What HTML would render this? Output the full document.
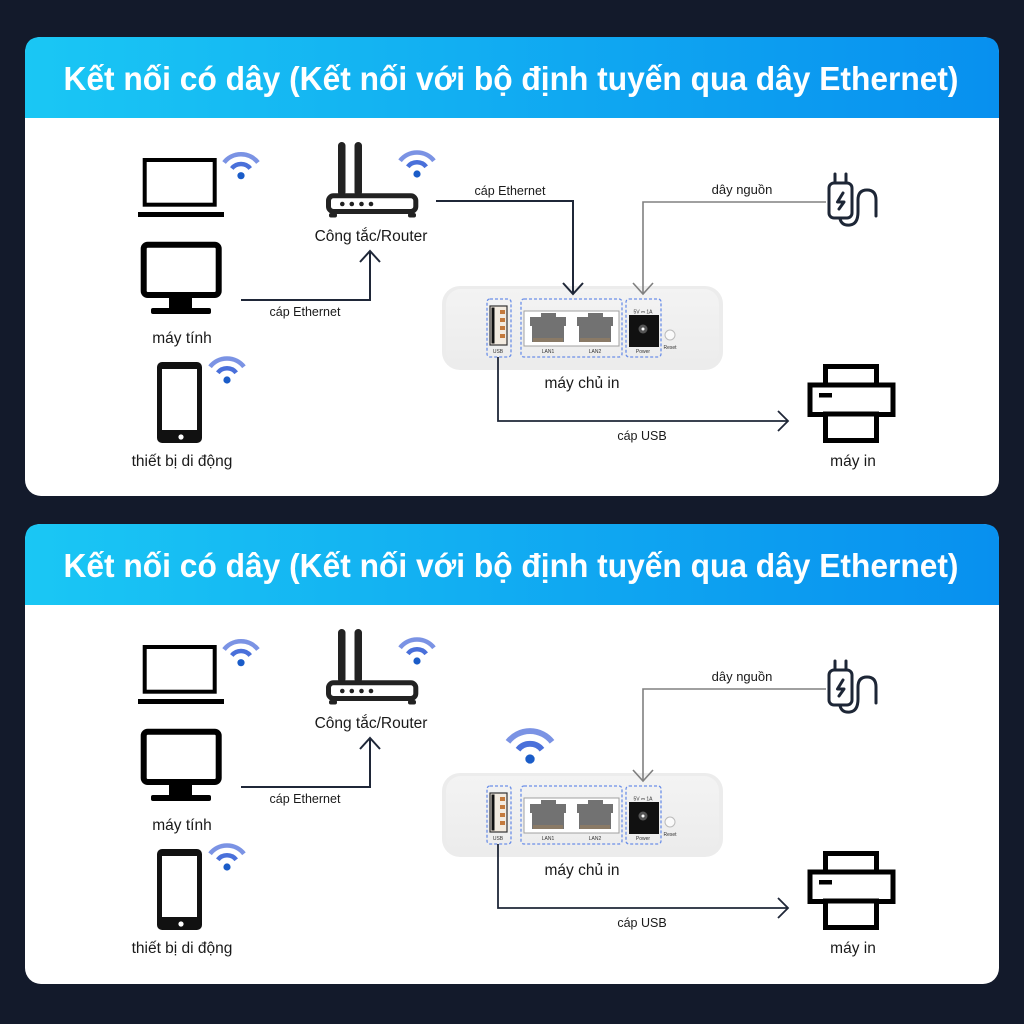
<!DOCTYPE html>
<html><head><meta charset="utf-8"><style>
html,body{margin:0;padding:0;background:#131a2b;}
svg{display:block;}
.t{font-family:"Liberation Sans","DejaVu Sans",sans-serif;fill:#1a1a1a;text-anchor:middle;}
.h{font-family:"Liberation Sans","DejaVu Sans",sans-serif;fill:#fff;font-weight:bold;text-anchor:middle;}
.s{font-family:"Liberation Sans","DejaVu Sans",sans-serif;fill:#333;text-anchor:middle;font-size:5px;}
</style></head><body>
<svg width="1024" height="1024" viewBox="0 0 1024 1024" xmlns="http://www.w3.org/2000/svg">
<defs>
<linearGradient id="hg" x1="0" y1="0" x2="1" y2="0">
<stop offset="0" stop-color="#1ac7f4"/><stop offset="1" stop-color="#0890ef"/>
</linearGradient>
<linearGradient id="dg" x1="0" y1="0" x2="0" y2="1">
<stop offset="0" stop-color="#f3f3f3"/><stop offset="1" stop-color="#ececec"/>
</linearGradient>
</defs>
<rect width="1024" height="1024" fill="#131a2b"/>

<!-- ================= PANEL 1 ================= -->
<rect x="25" y="37" width="974" height="459" rx="16" fill="#fff"/>
<path d="M25,118 V53 Q25,37 41,37 H983 Q999,37 999,53 V118 Z" fill="url(#hg)"/>
<text class="h" x="511" y="90" font-size="33" textLength="895" lengthAdjust="spacingAndGlyphs">Kết nối có dây (Kết nối với bộ định tuyến qua dây Ethernet)</text>

<!-- laptop -->
<rect x="144.7" y="160" width="70" height="44.7" fill="none" stroke="#000" stroke-width="4"/>
<rect x="138" y="212" width="86" height="5" fill="#000"/>
<g transform="translate(241,175.7)">
<path d="M-16.94,-13.24 A21.5,21.5 0 0 1 16.94,-13.24" fill="none" stroke="#7b93e4" stroke-width="4.5"/>
<path d="M-9.22,-7.2 A11.7,11.7 0 0 1 9.22,-7.2" fill="none" stroke="#4a70da" stroke-width="4.5"/>
<circle r="3.6" fill="#1a5cc8"/></g>

<!-- monitor -->
<rect x="143.7" y="244.7" width="75" height="50.3" rx="4" fill="none" stroke="#000" stroke-width="6"/>
<rect x="169" y="296" width="23" height="14" fill="#000"/>
<rect x="151" y="308" width="60" height="6" rx="2" fill="#000"/>
<text class="t" x="182" y="343" font-size="15.5">máy tính</text>

<!-- phone -->
<rect x="157" y="362" width="45" height="81" rx="5" fill="#111"/>
<rect x="162" y="369" width="35" height="61" fill="#fff"/>
<circle cx="181" cy="437" r="2.6" fill="#fff"/>
<g transform="translate(227,380)">
<path d="M-16.94,-13.24 A21.5,21.5 0 0 1 16.94,-13.24" fill="none" stroke="#7b93e4" stroke-width="4.5"/>
<path d="M-9.22,-7.2 A11.7,11.7 0 0 1 9.22,-7.2" fill="none" stroke="#4a70da" stroke-width="4.5"/>
<circle r="3.6" fill="#1a5cc8"/></g>
<text class="t" x="182" y="466" font-size="15.5">thiết bị di động</text>

<!-- router -->
<rect x="338" y="142" width="7.5" height="54" rx="3.7" fill="#222"/>
<rect x="354.5" y="142" width="7.5" height="54" rx="3.7" fill="#222"/>
<rect x="329" y="213" width="8" height="4.5" rx="2" fill="#222"/>
<rect x="408" y="213" width="8" height="4.5" rx="2" fill="#222"/>
<rect x="328.5" y="195.8" width="87.3" height="15.7" rx="5" fill="#fff" stroke="#222" stroke-width="5"/>
<circle cx="342.3" cy="204" r="2.3" fill="#222"/><circle cx="351.8" cy="204" r="2.3" fill="#222"/>
<circle cx="361.5" cy="204" r="2.3" fill="#222"/><circle cx="371" cy="204" r="2.3" fill="#222"/>
<g transform="translate(417,174)">
<path d="M-16.94,-13.24 A21.5,21.5 0 0 1 16.94,-13.24" fill="none" stroke="#7b93e4" stroke-width="4.5"/>
<path d="M-9.22,-7.2 A11.7,11.7 0 0 1 9.22,-7.2" fill="none" stroke="#4a70da" stroke-width="4.5"/>
<circle r="3.6" fill="#1a5cc8"/></g>
<text class="t" x="371" y="241" font-size="15.5">Công tắc/Router</text>

<!-- device -->
<rect x="442" y="286" width="281" height="84" rx="18" fill="#ececec"/>
<rect x="446" y="289" width="273" height="77" rx="15" fill="url(#dg)"/>
<rect x="487" y="299" width="24" height="58" rx="3" fill="none" stroke="#6b8fe8" stroke-width="1.3" stroke-dasharray="3 2"/>
<rect x="521" y="299" width="101" height="58" rx="3" fill="none" stroke="#6b8fe8" stroke-width="1.3" stroke-dasharray="3 2"/>
<rect x="626" y="299" width="35" height="58" rx="3" fill="none" stroke="#6b8fe8" stroke-width="1.3" stroke-dasharray="3 2"/>
<rect x="490" y="306" width="17" height="39" fill="#f3ebe0" stroke="#333" stroke-width="1.2"/>
<rect x="491.5" y="307.5" width="3" height="36" fill="#111"/>
<rect x="500" y="310" width="5" height="4" fill="#c47a3c"/><rect x="500" y="318" width="5" height="4" fill="#c47a3c"/>
<rect x="500" y="326" width="5" height="4" fill="#c47a3c"/><rect x="500" y="334" width="5" height="4" fill="#c47a3c"/>
<text class="s" x="498" y="353">USB</text>
<rect x="524" y="311" width="95" height="35" fill="#fff" stroke="#a0a0a0" stroke-width="1"/>
<path d="M532,342 V326 H530 V317 H541 V313 H556 V317 H566 V326 H564 V342 Z" fill="#727272"/>
<rect x="533" y="338" width="30" height="4" fill="#8a7a66"/>
<path d="M579,342 V326 H577 V317 H588 V313 H603 V317 H613 V326 H611 V342 Z" fill="#727272"/>
<rect x="580" y="338" width="30" height="4" fill="#8a7a66"/>
<text class="s" x="548" y="353">LAN1</text>
<text class="s" x="595" y="353">LAN2</text>
<text class="s" x="643" y="313.5">5V ⎓ 1A</text>
<rect x="629" y="315" width="30" height="32" fill="#111"/>
<circle cx="643" cy="329" r="4.5" fill="#555"/><circle cx="643" cy="329" r="1.5" fill="#fff"/>
<text class="s" x="643" y="353">Power</text>
<circle cx="670" cy="335" r="5" fill="#fafafa" stroke="#bbb" stroke-width="1"/>
<text class="s" x="670" y="349">Reset</text>
<text class="t" x="582" y="388" font-size="15.5">máy chủ in</text>

<!-- monitor -> router line -->
<path d="M241,300 H370 V252" fill="none" stroke="#1f2738" stroke-width="2"/>
<polyline points="360,262 370,251 380,262" fill="none" stroke="#1f2738" stroke-width="2"/>
<text class="t" x="305" y="316" font-size="12.5">cáp Ethernet</text>

<!-- router -> device line -->
<path d="M436,201 H573 V294" fill="none" stroke="#1f2738" stroke-width="2"/>
<polyline points="563,283 573,294 583,283" fill="none" stroke="#1f2738" stroke-width="2"/>
<text class="t" x="510" y="195" font-size="12.5">cáp Ethernet</text>

<!-- power line -->
<path d="M826,202 H643 V294" fill="none" stroke="#808080" stroke-width="1.6"/>
<polyline points="633,283 643,294 653,283" fill="none" stroke="#808080" stroke-width="1.6"/>
<text class="t" x="742" y="194" font-size="13">dây nguồn</text>

<!-- plug -->
<g fill="none" stroke="#1d2636" stroke-width="3" stroke-linecap="round" stroke-linejoin="round">
<line x1="835" y1="174" x2="835" y2="183"/><line x1="846" y1="174" x2="846" y2="183"/>
<rect x="829" y="183" width="23" height="35" rx="5"/>
<path d="M843,193 L837.5,202 H844 L839,209"/>
<path d="M840,219 Q842,226 850,225 Q858,224 858,212 V200 Q858,190 867,190 Q876,190 876,200 V216"/>
</g>

<!-- usb line -->
<path d="M498,357 V421 H787" fill="none" stroke="#1f2738" stroke-width="1.8"/>
<polyline points="778,411 788,421 778,431" fill="none" stroke="#1f2738" stroke-width="1.8"/>
<text class="t" x="642" y="440" font-size="12.5">cáp USB</text>

<!-- printer -->
<g fill="#fff" stroke="#000" stroke-width="5">
<rect x="825.5" y="366.5" width="51" height="19"/>
<rect x="810" y="385" width="83" height="29.5"/>
<rect x="825.5" y="414" width="51" height="26.5"/>
</g>
<rect x="819" y="393" width="13" height="4.5" fill="#000"/>
<text class="t" x="853" y="466" font-size="15.5">máy in</text>

<!-- ================= PANEL 2 ================= -->
<rect x="25" y="524" width="974" height="460" rx="16" fill="#fff"/>
<path d="M25,605 V540 Q25,524 41,524 H983 Q999,524 999,540 V605 Z" fill="url(#hg)"/>
<text class="h" x="511" y="577" font-size="33" textLength="895" lengthAdjust="spacingAndGlyphs">Kết nối có dây (Kết nối với bộ định tuyến qua dây Ethernet)</text>

<!-- laptop -->
<rect x="144.7" y="647" width="70" height="44.7" fill="none" stroke="#000" stroke-width="4"/>
<rect x="138" y="699" width="86" height="5" fill="#000"/>
<g transform="translate(241,662.7)">
<path d="M-16.94,-13.24 A21.5,21.5 0 0 1 16.94,-13.24" fill="none" stroke="#7b93e4" stroke-width="4.5"/>
<path d="M-9.22,-7.2 A11.7,11.7 0 0 1 9.22,-7.2" fill="none" stroke="#4a70da" stroke-width="4.5"/>
<circle r="3.6" fill="#1a5cc8"/></g>

<!-- monitor -->
<rect x="143.7" y="731.7" width="75" height="50.3" rx="4" fill="none" stroke="#000" stroke-width="6"/>
<rect x="169" y="783" width="23" height="14" fill="#000"/>
<rect x="151" y="795" width="60" height="6" rx="2" fill="#000"/>
<text class="t" x="182" y="830" font-size="15.5">máy tính</text>

<!-- phone -->
<rect x="157" y="849" width="45" height="81" rx="5" fill="#111"/>
<rect x="162" y="856" width="35" height="61" fill="#fff"/>
<circle cx="181" cy="924" r="2.6" fill="#fff"/>
<g transform="translate(227,867)">
<path d="M-16.94,-13.24 A21.5,21.5 0 0 1 16.94,-13.24" fill="none" stroke="#7b93e4" stroke-width="4.5"/>
<path d="M-9.22,-7.2 A11.7,11.7 0 0 1 9.22,-7.2" fill="none" stroke="#4a70da" stroke-width="4.5"/>
<circle r="3.6" fill="#1a5cc8"/></g>
<text class="t" x="182" y="953" font-size="15.5">thiết bị di động</text>

<!-- router -->
<rect x="338" y="629" width="7.5" height="54" rx="3.7" fill="#222"/>
<rect x="354.5" y="629" width="7.5" height="54" rx="3.7" fill="#222"/>
<rect x="329" y="700" width="8" height="4.5" rx="2" fill="#222"/>
<rect x="408" y="700" width="8" height="4.5" rx="2" fill="#222"/>
<rect x="328.5" y="682.8" width="87.3" height="15.7" rx="5" fill="#fff" stroke="#222" stroke-width="5"/>
<circle cx="342.3" cy="691" r="2.3" fill="#222"/><circle cx="351.8" cy="691" r="2.3" fill="#222"/>
<circle cx="361.5" cy="691" r="2.3" fill="#222"/><circle cx="371" cy="691" r="2.3" fill="#222"/>
<g transform="translate(417,661)">
<path d="M-16.94,-13.24 A21.5,21.5 0 0 1 16.94,-13.24" fill="none" stroke="#7b93e4" stroke-width="4.5"/>
<path d="M-9.22,-7.2 A11.7,11.7 0 0 1 9.22,-7.2" fill="none" stroke="#4a70da" stroke-width="4.5"/>
<circle r="3.6" fill="#1a5cc8"/></g>
<text class="t" x="371" y="728" font-size="15.5">Công tắc/Router</text>

<!-- device wifi -->
<g transform="translate(530,759) scale(1.3)">
<path d="M-16.94,-13.24 A21.5,21.5 0 0 1 16.94,-13.24" fill="none" stroke="#7b93e4" stroke-width="4.5"/>
<path d="M-9.22,-7.2 A11.7,11.7 0 0 1 9.22,-7.2" fill="none" stroke="#4a70da" stroke-width="4.5"/>
<circle r="3.6" fill="#1a5cc8"/></g>

<!-- device -->
<rect x="442" y="773" width="281" height="84" rx="18" fill="#ececec"/>
<rect x="446" y="776" width="273" height="77" rx="15" fill="url(#dg)"/>
<rect x="487" y="786" width="24" height="58" rx="3" fill="none" stroke="#6b8fe8" stroke-width="1.3" stroke-dasharray="3 2"/>
<rect x="521" y="786" width="101" height="58" rx="3" fill="none" stroke="#6b8fe8" stroke-width="1.3" stroke-dasharray="3 2"/>
<rect x="626" y="786" width="35" height="58" rx="3" fill="none" stroke="#6b8fe8" stroke-width="1.3" stroke-dasharray="3 2"/>
<rect x="490" y="793" width="17" height="39" fill="#f3ebe0" stroke="#333" stroke-width="1.2"/>
<rect x="491.5" y="794.5" width="3" height="36" fill="#111"/>
<rect x="500" y="797" width="5" height="4" fill="#c47a3c"/><rect x="500" y="805" width="5" height="4" fill="#c47a3c"/>
<rect x="500" y="813" width="5" height="4" fill="#c47a3c"/><rect x="500" y="821" width="5" height="4" fill="#c47a3c"/>
<text class="s" x="498" y="840">USB</text>
<rect x="524" y="798" width="95" height="35" fill="#fff" stroke="#a0a0a0" stroke-width="1"/>
<path d="M532,829 V813 H530 V804 H541 V800 H556 V804 H566 V813 H564 V829 Z" fill="#727272"/>
<rect x="533" y="825" width="30" height="4" fill="#8a7a66"/>
<path d="M579,829 V813 H577 V804 H588 V800 H603 V804 H613 V813 H611 V829 Z" fill="#727272"/>
<rect x="580" y="825" width="30" height="4" fill="#8a7a66"/>
<text class="s" x="548" y="840">LAN1</text>
<text class="s" x="595" y="840">LAN2</text>
<text class="s" x="643" y="800.5">5V ⎓ 1A</text>
<rect x="629" y="802" width="30" height="32" fill="#111"/>
<circle cx="643" cy="816" r="4.5" fill="#555"/><circle cx="643" cy="816" r="1.5" fill="#fff"/>
<text class="s" x="643" y="840">Power</text>
<circle cx="670" cy="822" r="5" fill="#fafafa" stroke="#bbb" stroke-width="1"/>
<text class="s" x="670" y="836">Reset</text>
<text class="t" x="582" y="875" font-size="15.5">máy chủ in</text>

<!-- monitor -> router line -->
<path d="M241,787 H370 V739" fill="none" stroke="#1f2738" stroke-width="2"/>
<polyline points="360,749 370,738 380,749" fill="none" stroke="#1f2738" stroke-width="2"/>
<text class="t" x="305" y="803" font-size="12.5">cáp Ethernet</text>

<!-- power line -->
<path d="M826,689 H643 V781" fill="none" stroke="#808080" stroke-width="1.6"/>
<polyline points="633,770 643,781 653,770" fill="none" stroke="#808080" stroke-width="1.6"/>
<text class="t" x="742" y="681" font-size="13">dây nguồn</text>

<!-- plug -->
<g fill="none" stroke="#1d2636" stroke-width="3" stroke-linecap="round" stroke-linejoin="round">
<line x1="835" y1="661" x2="835" y2="670"/><line x1="846" y1="661" x2="846" y2="670"/>
<rect x="829" y="670" width="23" height="35" rx="5"/>
<path d="M843,680 L837.5,689 H844 L839,696"/>
<path d="M840,706 Q842,713 850,712 Q858,711 858,699 V687 Q858,677 867,677 Q876,677 876,687 V703"/>
</g>

<!-- usb line -->
<path d="M498,844 V908 H787" fill="none" stroke="#1f2738" stroke-width="1.8"/>
<polyline points="778,898 788,908 778,918" fill="none" stroke="#1f2738" stroke-width="1.8"/>
<text class="t" x="642" y="927" font-size="12.5">cáp USB</text>

<!-- printer -->
<g fill="#fff" stroke="#000" stroke-width="5">
<rect x="825.5" y="853.5" width="51" height="19"/>
<rect x="810" y="872" width="83" height="29.5"/>
<rect x="825.5" y="901" width="51" height="26.5"/>
</g>
<rect x="819" y="880" width="13" height="4.5" fill="#000"/>
<text class="t" x="853" y="953" font-size="15.5">máy in</text>
</svg>
</body></html>
